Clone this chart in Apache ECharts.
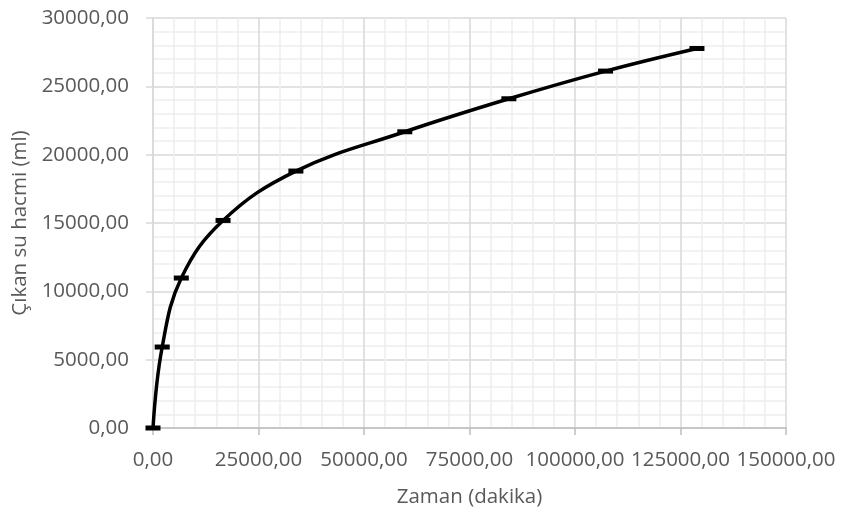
<!DOCTYPE html>
<html>
<head>
<meta charset="utf-8">
<script src="https://cdn.jsdelivr.net/npm/echarts@6/dist/echarts.min.js"></script>
<style>
  html, body { margin: 0; padding: 0; background: #fff; }
  #chart { width: 841px; height: 516px; }
</style>
</head>
<body>
<div id="chart"></div>
<script>
// time (dakika) and outflow volume (ml)
const zaman = [0, 2180, 6710, 16600, 33860, 59670, 84330, 107240, 128900];
const hacim = [0, 5925, 10973, 15187, 18800, 21675, 24090, 26115, 27770];

const FONT = '"Open Sans", sans-serif';
const TEXT = '#595959';

const fmt = v => v.toFixed(2).replace('.', ',');

let chart = echarts.init(document.getElementById('chart'));
let option = {
  animation: false,
  grid: {
    left: 153,
    right: 55,
    top: 18,
    bottom: 88,
    containLabel: false
  },
  xAxis: {
    type: 'value',
    min: 0,
    max: 150000,
    interval: 25000,
    name: 'Zaman (dakika)',
    nameLocation: 'middle',
    nameGap: 59,
    nameTextStyle: { color: TEXT, fontSize: 20.5, fontFamily: FONT },
    axisLine: { show: true, lineStyle: { color: '#bfbfbf', width: 1.5 } },
    axisTick: { show: true, length: 7, lineStyle: { color: '#bfbfbf', width: 1.5 } },
    axisLabel: { color: TEXT, fontSize: 20.5, fontFamily: FONT, margin: 22, formatter: fmt },
    splitLine: { show: true, lineStyle: { color: '#d9d9d9', width: 1.5 } },
    minorTick: { show: true, splitNumber: 5, length: 0 },
    minorSplitLine: { show: true, lineStyle: { color: '#eeeeee', width: 1.5 } }
  },
  yAxis: {
    type: 'value',
    min: 0,
    max: 30000,
    interval: 5000,
    name: 'Çıkan su hacmi (ml)',
    nameLocation: 'middle',
    nameGap: 122,
    nameTextStyle: { color: TEXT, fontSize: 20.5, fontFamily: FONT },
    axisLine: { show: true, lineStyle: { color: '#d9d9d9', width: 1.5 } },
    axisTick: { show: true, length: 7, lineStyle: { color: '#d9d9d9', width: 1.5 } },
    axisLabel: { color: TEXT, fontSize: 20.5, fontFamily: FONT, margin: 24, formatter: fmt },
    splitLine: { show: true, lineStyle: { color: '#d9d9d9', width: 1.5 } },
    minorTick: { show: true, splitNumber: 5, length: 0 },
    minorSplitLine: { show: true, lineStyle: { color: '#eeeeee', width: 1.5 } }
  },
  series: [
    {
      type: 'line',
      data: zaman.map((x, i) => [x, hacim[i]]),
      smooth: 0.4,
      symbol: 'rect',
      symbolSize: [15, 5],
      itemStyle: { color: '#000' },
      lineStyle: { color: '#000', width: 3.5 }
    }
  ]
};
chart.setOption(option);
window.addEventListener('resize', () => { chart.resize(); })
</script>
</body>
</html>
